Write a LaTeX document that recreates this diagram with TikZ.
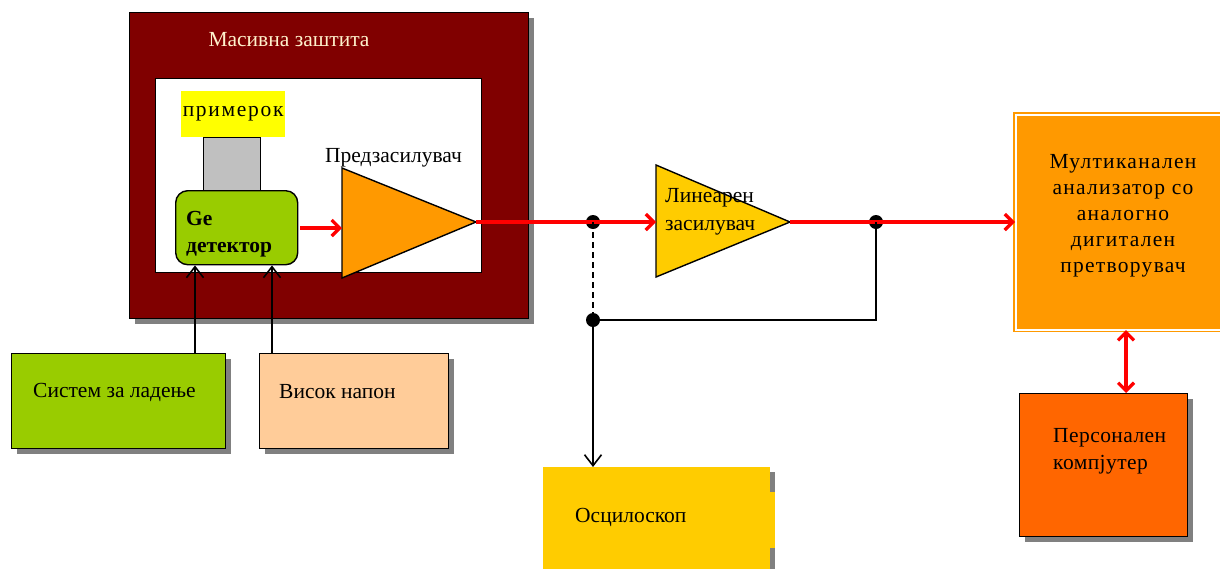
\documentclass[tikz,border=0pt]{standalone}
\usepackage{fontspec}
\setmainfont{Liberation Serif}
\usetikzlibrary{arrows.meta,shadows}

\definecolor{shieldred}{HTML}{800000}
\definecolor{titlecream}{HTML}{FFF2CC}
\definecolor{detgreen}{HTML}{99CC00}
\definecolor{sampleyellow}{HTML}{FFFF00}
\definecolor{holdergray}{HTML}{C0C0C0}
\definecolor{preorange}{HTML}{FF9900}
\definecolor{ampyellow}{HTML}{FFCC00}
\definecolor{hvpeach}{HTML}{FFCC99}
\definecolor{pcorange}{HTML}{FF6600}
\definecolor{shadowgray}{HTML}{808080}

\tikzset{
  blk/.style={draw=black, line width=1.4pt, inner sep=0pt, anchor=north west},
  shadowed/.style={drop shadow={shadow xshift=5pt, shadow yshift=-5pt, fill=shadowgray, opacity=1}},
  lbl/.style={inner sep=0pt, font=\fontsize{21.5}{26}\selectfont},
  sig/.style={red, line width=4pt},
  sigarrow/.style={sig, -{Straight Barb[length=8pt, width=16pt, line width=3.2pt]}},
  wire/.style={black, line width=1.6pt},
  wirearrow/.style={wire, -{Straight Barb[length=11pt, width=17pt, line width=1.6pt]}},
  junction/.style={circle, fill=black, inner sep=0pt, minimum size=14pt},
}

\begin{document}
\begin{tikzpicture}[x=1pt, y=-1pt]
\useasboundingbox (0,0) rectangle (1220,568);

% lead shield with the inner chamber
\node[blk, shadowed, fill=shieldred, minimum width=399, minimum height=306] (shield) at (129,12) {};
\node[blk, fill=white, minimum width=326, minimum height=194] (chamber) at (155,78) {};
\node[lbl, text=titlecream] (shieldtitle) at (289,40) {Масивна заштита};

% sample, holder and detector
\node[inner sep=0pt, fill=sampleyellow, minimum width=104, minimum height=46, anchor=north west] (sample) at (181,91) {};
\node[lbl, font=\fontsize{21.5}{26}\selectfont\addfontfeature{LetterSpace=8}] (sampletext) at (sample.center) {примерок};
\node[blk, fill=holdergray, minimum width=57, minimum height=53] (holder) at (203,137) {};
\node[blk, fill=detgreen, rounded corners=12pt, minimum width=122, minimum height=74] (det) at (175,190) {};
\node[lbl, anchor=north west, align=left, font=\fontsize{21.5}{27}\selectfont\bfseries] (dettext) at (186,211) {Ge\\детектор};

% preamplifier
\coordinate (prein) at (342,228);
\coordinate (preout) at (476,222);
\draw[black, line width=1.4pt, fill=preorange] (342,168) -- (preout) -- (342,278) -- cycle;
\node[lbl, anchor=west] (pretext) at (325,158) {Предзасилувач};

% linear amplifier
\coordinate (linin) at (656,222);
\coordinate (linout) at (790,222);
\draw[black, line width=1.4pt, fill=ampyellow] (656,165) -- (linout) -- (656,277) -- cycle;
\node[lbl, anchor=north west, align=left, font=\fontsize{21.5}{28}\selectfont] (lintext) at (665,188) {Линеарен\\засилувач};

% supply boxes
\node[blk, shadowed, fill=detgreen, minimum width=214, minimum height=95] (cool) at (11,353) {};
\node[lbl, anchor=west] (cooltext) at (33,392) {Систем за ладење};
\node[blk, shadowed, fill=hvpeach, minimum width=189, minimum height=95] (hv) at (259,353) {};
\node[lbl, anchor=west] (hvtext) at (279,392) {Висок напон};

% oscilloscope
\fill[shadowgray] (548,472) rectangle (775,573);
\node[inner sep=0pt, fill=ampyellow, minimum width=227, minimum height=106, anchor=north west] (osc) at (543,467) {};
\fill[ampyellow] (769,492) rectangle (775,548);
\node[lbl, anchor=west] (osctext) at (575,517) {Осцилоскоп};

% multichannel analyser
\node[inner sep=0pt, fill=preorange, draw=preorange, double=white, double distance=2pt, line width=1.2pt,
      minimum width=220, minimum height=215, anchor=north west] (mca) at (1015,114) {};
\node[lbl, align=center, font=\fontsize{21.5}{26}\selectfont\addfontfeature{LetterSpace=6}] (mcatext) at (1123,216)
  {Мултиканален\\анализатор со\\аналогно\\дигитален\\претворувач};

% personal computer
\node[blk, shadowed, fill=pcorange, minimum width=168, minimum height=143] (pc) at (1019,393) {};
\node[lbl, anchor=north west, align=left, font=\fontsize{21.5}{27}\selectfont\addfontfeature{LetterSpace=2}] (pctext) at (1053,428) {Персонален\\компјутер};

% junctions
\node[junction] (j1) at (593,222) {};
\node[junction] (j2) at (876,222) {};
\node[junction] (j3) at (593,320) {};

% signal chain
\draw[sigarrow] (det.east |- prein) ++(2,0) -- (prein);
\draw[sig] (preout) -- (j1.center);
\draw[sigarrow] (j1.center) -- (linin);
\draw[sig] (linout) -- (j2.center);
\draw[sigarrow] (j2.center) -- (mca.west |- j2);
\draw[sig, {Straight Barb[length=8pt, width=16pt, line width=3.2pt]}-{Straight Barb[length=8pt, width=16pt, line width=3.2pt]}]
  (mca.south -| 1126,0) -- (pc.north -| 1126,0);

% monitoring lines to the oscilloscope
\draw[wire, dash pattern=on 6pt off 4pt] (j1.center) -- (j3.center);
\draw[wire] (j2.center) |- (j3.center);
\draw[wirearrow] (j3.center) -- (osc.north -| j3);

% supplies to the detector
\draw[wirearrow] (cool.north -| 195,0) -- (det.south -| 195,0);
\draw[wirearrow] (hv.north -| 272,0) -- (det.south -| 272,0);
\end{tikzpicture}
\end{document}
